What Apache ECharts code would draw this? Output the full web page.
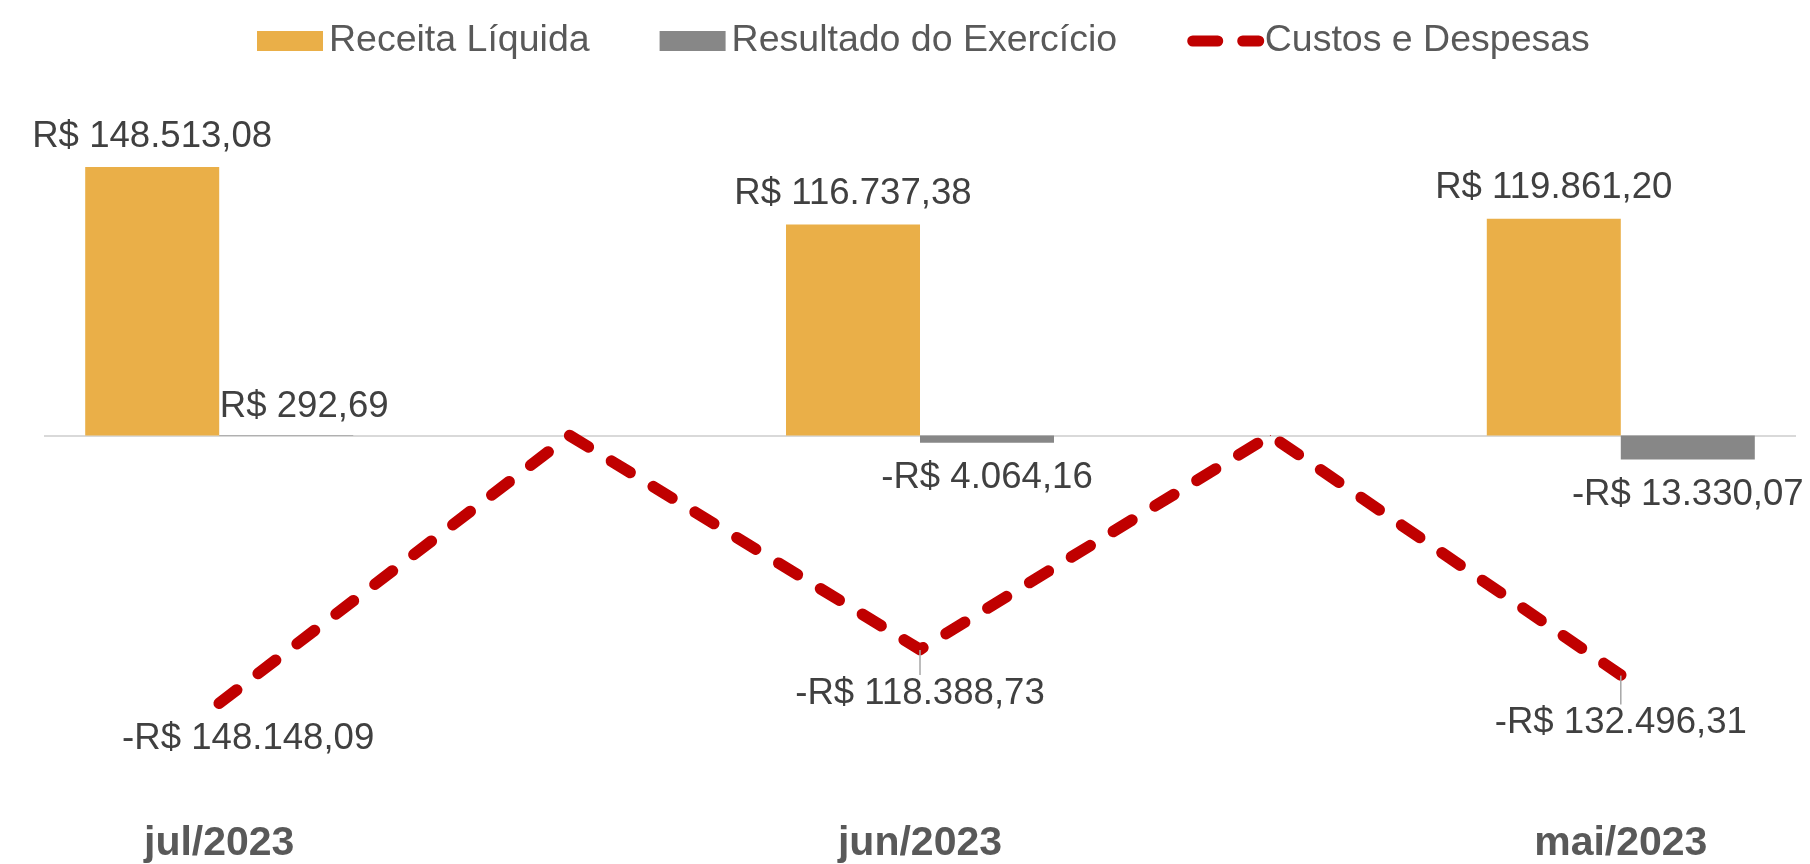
<!DOCTYPE html>
<html>
<head>
<meta charset="utf-8">
<script src="https://cdn.jsdelivr.net/npm/echarts@6/dist/echarts.min.js"></script>
<style>
  html, body { margin: 0; padding: 0; background: #ffffff; }
  #chart { width: 1810px; height: 864px; }
</style>
</head>
<body>
<div id="chart"></div>
<script>
// ---- Data ----
const categories = ['jul/2023', '', 'jun/2023', '', 'mai/2023'];
const receitaLiquida = [148513.08, null, 116737.38, null, 119861.20];
const resultadoExercicio = [292.69, null, -4064.16, null, -13330.07];
const custosDespesas = [-148148.09, 0, -118388.73, 0, -132496.31];
const seriesNames = ['Receita Líquida', 'Resultado do Exercício', 'Custos e Despesas'];

// ---- Helpers ----
function brl(v) {
  const neg = v < 0;
  const parts = Math.abs(v).toFixed(2).split('.');
  const intPart = parts[0].replace(/\B(?=(\d{3})+(?!\d))/g, '.');
  return (neg ? '-' : '') + 'R$ ' + intPart + ',' + parts[1];
}

const FONT = "'Liberation Sans', Arial, sans-serif";
const LABEL_SIZE = 36.6;
const LABEL_COLOR = '#404040';

const resultadoData = resultadoExercicio.map((v, i) => {
  if (v === null) return null;
  if (v < 0) {
    return { value: v, label: { position: 'bottom', distance: 17 } };
  }
  return { value: v, label: { position: 'top', distance: 10 } };
});

// label layout tweaks (pixel shifts of the data labels)
const lineLabelDistance = [17, null, 5, null, 5];
const lineLabelShift = [[29, 0], null, [0, 20], null, [0, 24]];
const resultadoLabelShift = [[18, 0], null, null, null, null];

const custosData = custosDespesas.map((v, i) => {
  const d = lineLabelDistance[i];
  if (d === null) return { value: v, label: { show: false }, labelLine: { show: false } };
  return {
    value: v,
    label: { show: true, position: 'bottom', distance: d },
    labelLine: { show: i !== 0 }
  };
});

const chart = echarts.init(document.getElementById('chart'), null, { renderer: 'canvas' });

const option = {
  backgroundColor: '#ffffff',
  animation: false,
  textStyle: { fontFamily: FONT },
  legend: {
    left: 252,
    top: 17,
    itemWidth: 66,
    itemHeight: 20,
    itemGap: 70,
    textStyle: { fontSize: 37.5, color: '#595959', fontFamily: FONT, padding: [0, 0, 0, 1] },
    data: [
      { name: seriesNames[0], icon: 'rect' },
      { name: seriesNames[1], icon: 'rect' },
      {
        name: seriesNames[2],
        itemStyle: { color: 'rgba(0,0,0,0)', borderWidth: 0 },
        lineStyle: { color: '#C00000', width: 11, type: [25, 25], cap: 'round' }
      }
    ]
  },
  grid: { left: 44, right: 14, top: 74, bottom: 66, containLabel: false },
  xAxis: {
    type: 'category',
    data: categories,
    boundaryGap: true,
    axisLine: { show: false },
    axisTick: { show: false },
    splitLine: { show: false },
    axisLabel: {
      interval: 0,
      margin: 26,
      fontSize: 41,
      fontWeight: 'bold',
      color: '#595959',
      fontFamily: FONT
    }
  },
  yAxis: {
    type: 'value',
    min: -200000,
    max: 200000,
    show: false,
    splitLine: { show: false }
  },
  series: [
    {
      name: seriesNames[0],
      type: 'bar',
      data: receitaLiquida,
      barWidth: 134,
      barGap: '0%',
      itemStyle: { color: '#EAAF48' },
      label: {
        show: true,
        position: 'top',
        distance: 12,
        fontSize: LABEL_SIZE,
        color: LABEL_COLOR,
        fontFamily: FONT,
        formatter: p => brl(p.value)
      },
      markLine: {
        silent: true,
        symbol: 'none',
        label: { show: false },
        lineStyle: { color: '#d9d9d9', width: 2, type: 'solid' },
        data: [{ yAxis: 0 }],
        z: 1
      },
      z: 2
    },
    {
      name: seriesNames[1],
      type: 'bar',
      data: resultadoData,
      barWidth: 134,
      barGap: '0%',
      itemStyle: { color: '#878787' },
      label: {
        show: true,
        fontSize: LABEL_SIZE,
        color: LABEL_COLOR,
        fontFamily: FONT,
        formatter: p => brl(p.value)
      },
      labelLayout: function (params) {
        const s = resultadoLabelShift[params.dataIndex];
        return s ? { dx: s[0], dy: s[1] } : {};
      },
      labelLine: { show: false },
      z: 2
    },
    {
      name: seriesNames[2],
      type: 'line',
      data: custosData,
      symbol: 'circle',
      symbolSize: 1,
      showSymbol: true,
      itemStyle: { color: '#C00000' },
      lineStyle: { color: '#C00000', width: 11.5, type: [22, 27], cap: 'round', join: 'round' },
      label: {
        show: true,
        position: 'bottom',
        fontSize: LABEL_SIZE,
        color: LABEL_COLOR,
        fontFamily: FONT,
        formatter: p => brl(p.value)
      },
      labelLayout: function (params) {
        const s = lineLabelShift[params.dataIndex];
        return s ? { dx: s[0], dy: s[1] } : {};
      },
      labelLine: { show: true, lineStyle: { color: '#a6a6a6', width: 1.5 } },
      z: 5
    }
  ]
};

chart.setOption(option);
</script>
</body>
</html>
